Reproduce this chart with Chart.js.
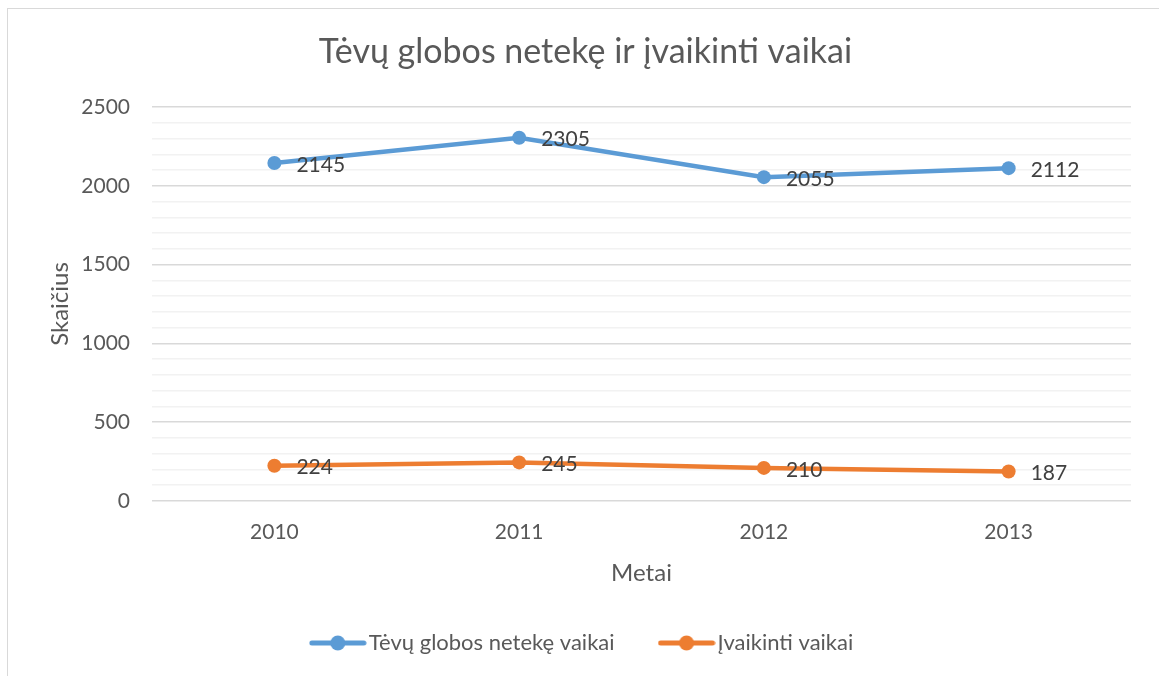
<!DOCTYPE html>
<html lang="lt">
<head>
<meta charset="utf-8">
<title>Tėvų globos netekę ir įvaikinti vaikai</title>
<script src="https://cdn.jsdelivr.net/npm/chart.js@4/dist/chart.umd.min.js"></script>
<style>
  html, body { margin: 0; padding: 0; background: #fff; overflow: hidden; }
  #frame { position: absolute; left: 7px; top: 8px; width: 1170px; height: 690px; border: 1px solid #d9d9d9; box-sizing: border-box; }
  #wrap { position: absolute; left: 0; top: 0; width: 1159px; height: 676px; }
</style>
</head>
<body>
<div id="frame"></div>
<div id="wrap"><canvas id="grafikas"></canvas></div>
<script>
// duomenys
const metai = ['2010', '2011', '2012', '2013'];
const netekeVaikai = [2145, 2305, 2055, 2112];
const ivaikintiVaikai = [224, 245, 210, 187];
const serijuPavadinimai = ['Tėvų globos netekę vaikai', 'Įvaikinti vaikai'];
const spalvos = ['#5b9bd5', '#ed7d31'];

const SRIFTAS = 'Lato, "Open Sans", sans-serif';

// legendos zenklas: linija su tasku
function legendosZenklas(spalva) {
  const c = document.createElement('canvas');
  c.width = 58; c.height = 18;
  const x = c.getContext('2d');
  x.strokeStyle = spalva; x.lineWidth = 5; x.lineCap = 'round';
  x.beginPath(); x.moveTo(3, 9); x.lineTo(55, 9); x.stroke();
  x.fillStyle = spalva;
  x.beginPath(); x.arc(29, 9, 7.5, 0, Math.PI * 2); x.fill();
  return c;
}

// reiksmes salia tasku
const reiksmiuEtiketes = {
  id: 'reiksmiuEtiketes',
  afterDatasetsDraw(chart) {
    const ctx = chart.ctx;
    ctx.save();
    ctx.font = '21px ' + SRIFTAS;
    ctx.fillStyle = '#404040';
    ctx.textAlign = 'left';
    ctx.textBaseline = 'middle';
    chart.data.datasets.forEach((ds, i) => {
      chart.getDatasetMeta(i).data.forEach((p, j) => {
        ctx.fillText(ds.data[j], p.x + 22, p.y + 2);
      });
    });
    ctx.restore();
  }
};

const ctx = document.getElementById('grafikas').getContext('2d');
new Chart(ctx, {
  type: 'line',
  data: {
    labels: metai,
    datasets: [
      { label: serijuPavadinimai[0], data: netekeVaikai, borderColor: spalvos[0], backgroundColor: spalvos[0],
        borderWidth: 4.5, pointRadius: 7, pointHoverRadius: 7, pointBorderWidth: 0, tension: 0 },
      { label: serijuPavadinimai[1], data: ivaikintiVaikai, borderColor: spalvos[1], backgroundColor: spalvos[1],
        borderWidth: 4.5, pointRadius: 7, pointHoverRadius: 7, pointBorderWidth: 0, tension: 0 }
    ]
  },
  options: {
    responsive: true,
    maintainAspectRatio: false,
    animation: false,
    layout: { padding: { left: 40, right: 28, top: 0, bottom: 12 } },
    plugins: {
      title: {
        display: true,
        text: 'Tėvų globos netekę ir įvaikinti vaikai',
        color: '#595959',
        font: { family: SRIFTAS, size: 34, weight: 'normal', lineHeight: 1.2 },
        padding: { top: 31.6, bottom: 34.6 }
      },
      legend: {
        position: 'bottom',
        labels: {
          color: '#595959',
          font: { family: SRIFTAS, size: 22 },
          usePointStyle: true,
          pointStyleWidth: 40,
          padding: 52,
          generateLabels(chart) {
            const items = Chart.defaults.plugins.legend.labels.generateLabels(chart);
            items.forEach((it, i) => { it.pointStyle = legendosZenklas(spalvos[i]); });
            return items;
          }
        }
      },
      tooltip: { enabled: false }
    },
    scales: {
      x: {
        offset: true,
        grid: { display: false, drawTicks: false },
        border: { display: false },
        ticks: { color: '#595959', font: { family: SRIFTAS, size: 21 }, padding: 19 },
        title: { display: true, text: 'Metai', color: '#595959', font: { family: SRIFTAS, size: 24 }, padding: { top: 0, bottom: -8 } },
        afterFit(s) { s.height = 79; }
      },
      y: {
        min: 0,
        max: 2500,
        grid: {
          drawTicks: false,
          color: c => (c.tick && c.tick.value % 500 === 0) ? '#d9d9d9' : '#f2f2f2',
          lineWidth: 1.5
        },
        border: { display: false },
        ticks: {
          stepSize: 100,
          maxTicksLimit: 30,
          color: '#595959',
          font: { family: SRIFTAS, size: 21, lineHeight: 0.6 },
          padding: 22,
          callback: v => (v % 500 === 0 ? v : '')
        },
        title: { display: true, text: 'Skaičius', color: '#595959', font: { family: SRIFTAS, size: 24 }, padding: { top: 5.6, bottom: 0 } },
        afterFit(s) { s.width = 112; }
      }
    }
  },
  plugins: [reiksmiuEtiketes]
});
</script>
</body>
</html>
